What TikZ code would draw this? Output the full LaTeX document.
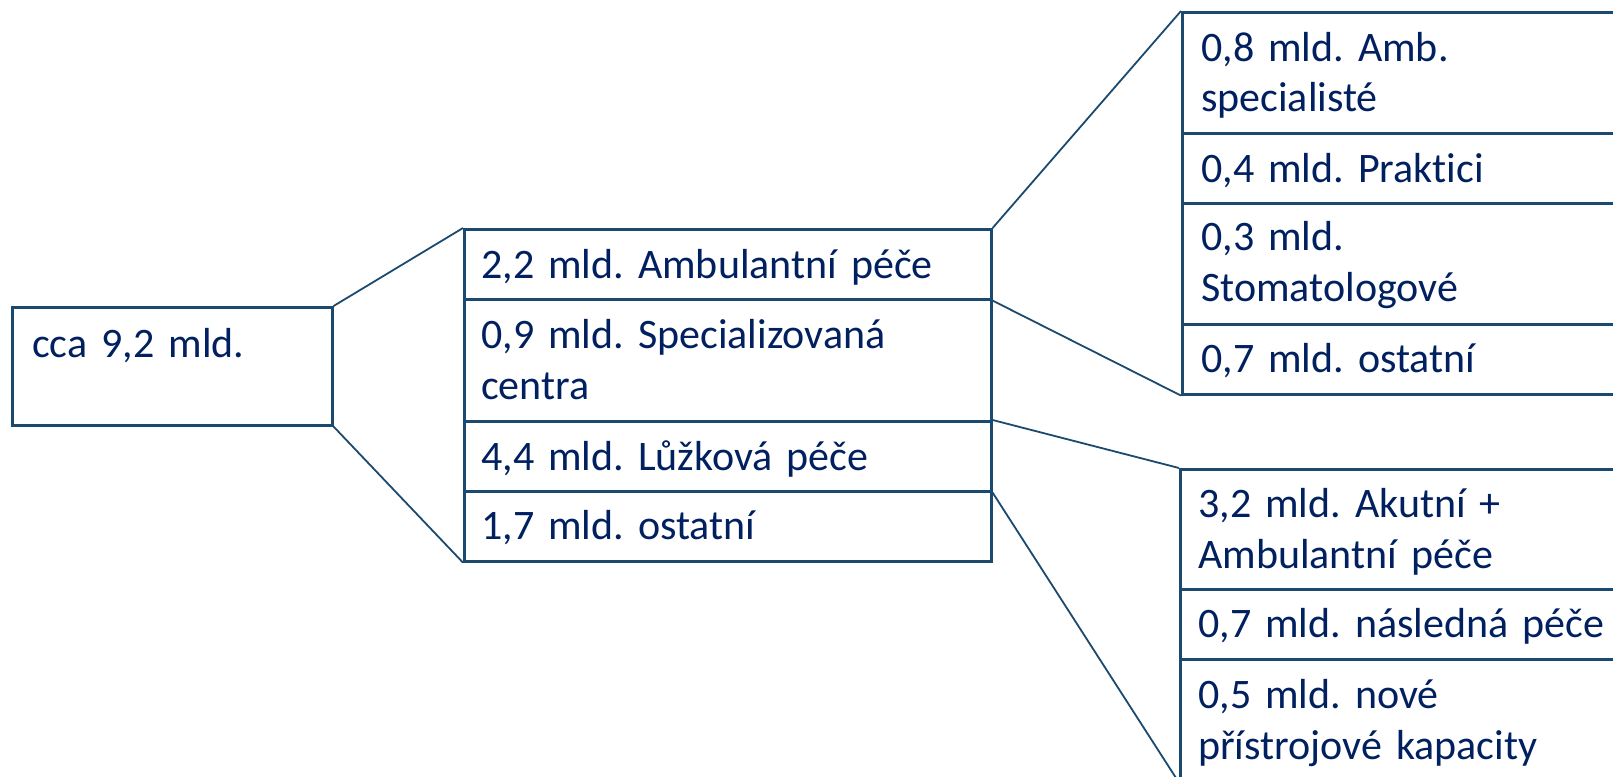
\documentclass[tikz,border=0pt]{standalone}
\usepackage{fontspec}
\setmainfont[Ligatures=NoCommon, WordSpace=0.75]{Carlito}
\usetikzlibrary{calc}
\definecolor{linec}{HTML}{1B4A6E}
\definecolor{textc}{HTML}{002060}
\frenchspacing
\tikzset{
  cell/.style={draw=linec, line width=2.6pt, rectangle, anchor=north west, inner sep=0pt, fill=white},
  lbl/.style={text=textc, font=\fontsize{42pt}{51pt}\selectfont\frenchspacing, anchor=base west, inner sep=0pt, text width=560pt, align=left},
  conn/.style={draw=linec, line width=1.8pt}
}
\begin{document}
\begin{tikzpicture}[x=1pt,y=-1pt]
\useasboundingbox (0,0) rectangle (1613,776);
\clip (0,0) rectangle (1613,776);
% left
\node[cell, minimum width=320pt, minimum height=118pt] (L) at (11,306) {};
% middle
\node[cell, minimum width=527pt, minimum height=70pt] (M1) at (463,228) {};
\node[cell, minimum width=527pt, minimum height=122pt] (M2) at (463,298) {};
\node[cell, minimum width=527pt, minimum height=70pt] (M3) at (463,420) {};
\node[cell, minimum width=527pt, minimum height=70pt] (M4) at (463,490) {};
% right top
\node[cell, minimum width=460pt, minimum height=121pt] (R1) at (1181,11) {};
\node[cell, minimum width=460pt, minimum height=70pt] (R2) at (1181,132) {};
\node[cell, minimum width=460pt, minimum height=121pt] (R3) at (1181,202) {};
\node[cell, minimum width=460pt, minimum height=70pt] (R4) at (1181,323) {};
% right bottom
\node[cell, minimum width=460pt, minimum height=120pt] (B1) at (1179,468) {};
\node[cell, minimum width=460pt, minimum height=70pt] (B2) at (1179,588) {};
\node[cell, minimum width=460pt, minimum height=122pt] (B3) at (1179,658) {};
% texts
\node[lbl] (tL) at ($(L.north west)+(21,51)$) {cca 9,2 mld.};
\node[lbl] (tM1) at ($(M1.north west)+(18,50)$) {2,2 mld. Ambulantní péče};
\node[lbl] (tM2) at ($(M2.north west)+(18,50)$) {0,9 mld. Specializovaná\\centra};
\node[lbl] (tM3) at ($(M3.north west)+(18,50)$) {4,4 mld. Lůžková péče};
\node[lbl] (tM4) at ($(M4.north west)+(18,49)$) {1,7 mld. ostatní};
\node[lbl] (tR1) at ($(R1.north west)+(20,50)$) {0,8 mld. Amb.\\specialisté};
\node[lbl] (tR2) at ($(R2.north west)+(20,50)$) {0,4 mld. Praktici};
\node[lbl] (tR3) at ($(R3.north west)+(20,48)$) {0,3 mld.\\Stomatologové};
\node[lbl] (tR4) at ($(R4.north west)+(20,49)$) {0,7 mld. ostatní};
\node[lbl] (tB1) at ($(B1.north west)+(19,49)$) {3,2 mld. Akutní +\\Ambulantní péče};
\node[lbl] (tB2) at ($(B2.north west)+(19,49)$) {0,7 mld. následná péče};
\node[lbl] (tB3) at ($(B3.north west)+(19,50)$) {0,5 mld. nové\\přístrojové kapacity};
% connectors
\draw[conn] (L.north east) -- (M1.north west);
\draw[conn] (L.south east) -- (M4.south west);
\draw[conn] (M1.north east) -- (R1.north west);
\draw[conn] (M1.south east) -- (R4.south west);
\draw[conn] (M3.north east) -- (B1.north west);
\draw[conn] (M3.south east) -- (B3.south west);
\end{tikzpicture}
\end{document}
